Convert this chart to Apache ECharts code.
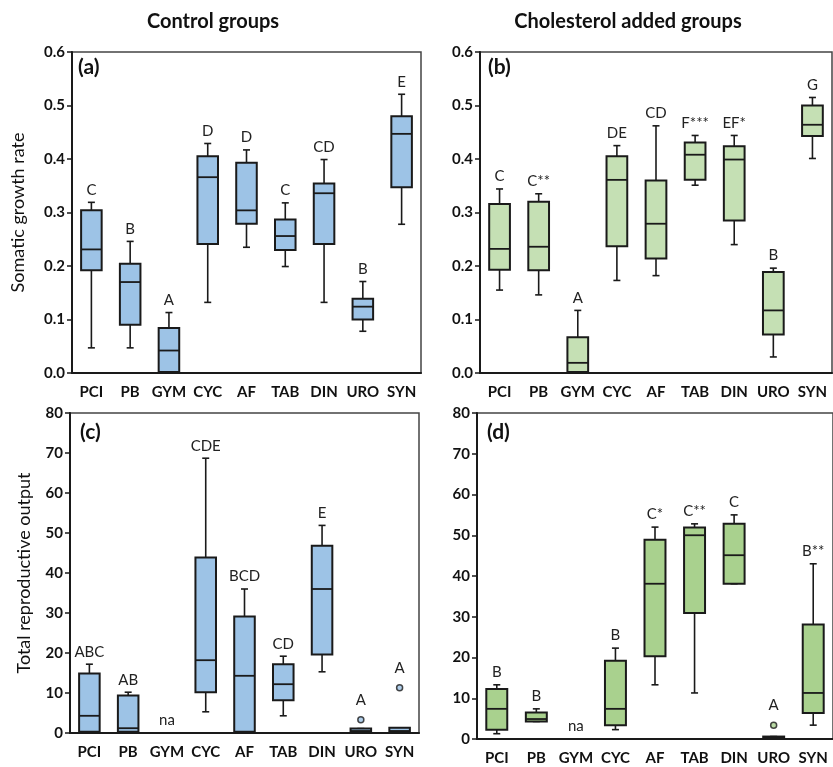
<!DOCTYPE html>
<html>
<head>
<meta charset="utf-8">
<style>
  html, body { margin: 0; padding: 0; background: #fff; }
  #chart { width: 833px; height: 767px; }
</style>
<script src="https://cdn.jsdelivr.net/npm/echarts@6/dist/echarts.min.js"></script>
</head>
<body>
<div id="chart"></div>
<script>
const categories = ['PCI', 'PB', 'GYM', 'CYC', 'AF', 'TAB', 'DIN', 'URO', 'SYN']
const growthTicks = { min: 0, max: 0.6, interval: 0.1 }
const reproTicks = { min: 0, max: 80, interval: 10 }

// [min, q1, median, q3, max]
const growthControl = [
  [0.047, 0.192, 0.231, 0.304, 0.319],
  [0.047, 0.090, 0.170, 0.204, 0.246],
  [0.000, 0.002, 0.042, 0.084, 0.113],
  [0.132, 0.241, 0.366, 0.405, 0.429],
  [0.235, 0.279, 0.304, 0.393, 0.417],
  [0.199, 0.230, 0.256, 0.287, 0.318],
  [0.132, 0.241, 0.336, 0.354, 0.399],
  [0.078, 0.100, 0.124, 0.139, 0.171],
  [0.278, 0.347, 0.447, 0.480, 0.521]
]
const growthCholesterol = [
  [0.155, 0.193, 0.232, 0.316, 0.344],
  [0.146, 0.192, 0.236, 0.320, 0.335],
  [0.000, 0.002, 0.019, 0.067, 0.117],
  [0.173, 0.237, 0.361, 0.405, 0.425],
  [0.182, 0.214, 0.279, 0.360, 0.462],
  [0.351, 0.361, 0.408, 0.431, 0.444],
  [0.240, 0.285, 0.399, 0.424, 0.444],
  [0.030, 0.072, 0.117, 0.189, 0.196],
  [0.401, 0.443, 0.464, 0.500, 0.515]
]
const reproControl = [
  [0.2, 0.3, 4.3, 14.9, 17.2],
  [0.2, 0.3, 1.2, 9.4, 10.2],
  null,
  [5.3, 10.2, 18.2, 43.9, 68.7],
  [0.2, 0.3, 14.3, 29.1, 36.0],
  [4.3, 8.2, 12.2, 17.2, 19.2],
  [15.3, 19.6, 36.0, 46.8, 51.9],
  [0.3, 0.3, 0.5, 1.1, 1.1],
  [0.3, 0.3, 0.5, 1.3, 1.3]
]
const reproCholesterol = [
  [1.3, 2.3, 7.4, 12.3, 13.3],
  [4.3, 4.3, 4.9, 6.5, 7.4],
  null,
  [2.3, 3.4, 7.4, 19.2, 22.3],
  [13.3, 20.3, 38.1, 48.9, 52.0],
  [11.3, 30.9, 50.0, 51.9, 52.8],
  [38.1, 38.1, 45.1, 52.8, 55.0],
  [0.25, 0.25, 0.4, 0.6, 0.6],
  [3.4, 6.4, 11.3, 28.1, 43.0]
]
const reproControlOutliers = [['URO', 3.3], ['SYN', 11.3]]
const reproCholesterolOutliers = [['URO', 3.4]]

const lettersGrowthControl = ['C', 'B', 'A', 'D', 'D', 'C', 'CD', 'B', 'E']
const lettersGrowthCholesterol = ['C', 'C**', 'A', 'DE', 'CD', 'F***', 'EF*', 'B', 'G']
const lettersReproControl = ['ABC', 'AB', 'na', 'CDE', 'BCD', 'CD', 'E', 'A', 'A']
const lettersReproCholesterol = ['B', 'B', 'na', 'B', 'C*', 'C**', 'C', 'A', 'B**']

const blue = '#9dc3e6'
const lightGreen = '#c5e0b4'
const green = '#a9d18e'
const ink = '#1a1a1a'
const font = 'Lato, "Liberation Sans", sans-serif'

const boxRows = stats => stats
  .map((s, i) => (s ? [i].concat(s) : null))
  .filter(Boolean)

const letterRows = (letters, stats, outliers) => letters.map((t, i) => {
  const s = stats[i]
  const out = outliers.filter(o => o[0] === categories[i]).map(o => o[1])
  const top = s ? s[4] : 0
  const anchor = out.length ? Math.max(top, ...out) : top
  return [i, anchor, t, out.length ? 1 : 0]
})

const renderBox = fill => (params, api) => {
  const idx = api.value(0)
  const lo = api.coord([idx, api.value(1)])
  const q1 = api.coord([idx, api.value(2)])
  const med = api.coord([idx, api.value(3)])
  const q3 = api.coord([idx, api.value(4)])
  const hi = api.coord([idx, api.value(5)])
  const w = api.size([1, 0])[0] * 0.53
  const x = q1[0]
  const cap = 3.5
  const line = (x1, y1, x2, y2, lw) => ({
    type: 'line',
    shape: { x1, y1, x2, y2 },
    style: { stroke: ink, lineWidth: lw }
  })
  return {
    type: 'group',
    children: [
      line(x, q3[1], x, hi[1], 1.6),
      line(x - cap, hi[1], x + cap, hi[1], 1.6),
      line(x, q1[1], x, lo[1], 1.6),
      line(x - cap, lo[1], x + cap, lo[1], 1.6),
      {
        type: 'rect',
        shape: { x: x - w / 2, y: q3[1], width: w, height: Math.max(q1[1] - q3[1], 1) },
        style: { fill, stroke: ink, lineWidth: 2 }
      },
      line(x - w / 2, med[1], x + w / 2, med[1], 1.8)
    ]
  }
}

const renderLetter = (params, api) => {
  const idx = api.value(0)
  const p = api.coord([idx, api.value(1)])
  const gap = api.value(3) ? 12 : 5
  return {
    type: 'text',
    style: {
      x: p[0],
      y: p[1] - gap,
      text: api.value(2),
      fill: '#222',
      font: '15px ' + font,
      textAlign: 'center',
      textVerticalAlign: 'bottom'
    }
  }
}

const grids = [
  { left: 72, right: 412, top: 52, height: 321 },
  { left: 480, right: 1, top: 52, height: 321 },
  { left: 70, right: 414, top: 413, height: 320 },
  { left: 477, right: -3, top: 413, height: 326 }
]

const panels = [
  { stats: growthControl, letters: lettersGrowthControl, outliers: [], fill: blue, ticks: growthTicks, name: 'Somatic growth rate', gap: 45, digits: 1 },
  { stats: growthCholesterol, letters: lettersGrowthCholesterol, outliers: [], fill: lightGreen, ticks: growthTicks, name: '', gap: 0, digits: 1 },
  { stats: reproControl, letters: lettersReproControl, outliers: reproControlOutliers, fill: blue, ticks: reproTicks, name: 'Total reproductive output', gap: 37, digits: 0 },
  { stats: reproCholesterol, letters: lettersReproCholesterol, outliers: reproCholesterolOutliers, fill: green, ticks: reproTicks, name: '', gap: 0, digits: 0 }
]

const chart = echarts.init(document.getElementById('chart'))

const labelStyle = { color: '#111', fontSize: 15, fontWeight: 'bold', fontFamily: font }

chart.setOption({
  animation: false,
  grid: grids.map(g => Object.assign({ show: true, borderColor: '#444', borderWidth: 1.5 }, g)),
  xAxis: panels.map((p, i) => ({
    type: 'category',
    gridIndex: i,
    data: categories,
    boundaryGap: true,
    axisTick: { show: false },
    axisLine: { lineStyle: { color: ink, width: 2 } },
    axisLabel: Object.assign({ margin: 12, interval: 0 }, labelStyle)
  })),
  yAxis: panels.map((p, i) => ({
    type: 'value',
    gridIndex: i,
    min: p.ticks.min,
    max: p.ticks.max,
    interval: p.ticks.interval,
    name: p.name,
    nameLocation: 'middle',
    nameRotate: 90,
    nameGap: p.gap,
    nameTextStyle: { color: '#111', fontSize: 18, fontFamily: font },
    splitLine: { show: false },
    axisTick: { show: true, length: 5, lineStyle: { color: ink, width: 1.5 } },
    axisLine: { show: true, lineStyle: { color: ink, width: 2 } },
    axisLabel: Object.assign({ margin: 7, formatter: v => v.toFixed(p.digits) }, labelStyle)
  })),
  series: panels.flatMap((p, i) => [
    {
      type: 'custom',
      xAxisIndex: i,
      yAxisIndex: i,
      renderItem: renderBox(p.fill),
      encode: { x: 0, y: [1, 2, 3, 4, 5] },
      data: boxRows(p.stats),
      clip: false
    },
    {
      type: 'scatter',
      xAxisIndex: i,
      yAxisIndex: i,
      symbol: 'circle',
      symbolSize: 6,
      itemStyle: { color: p.fill, borderColor: ink, borderWidth: 1.5 },
      data: p.outliers
    },
    {
      type: 'custom',
      xAxisIndex: i,
      yAxisIndex: i,
      renderItem: renderLetter,
      encode: { x: 0, y: 1 },
      data: letterRows(p.letters, p.stats, p.outliers),
      clip: false
    }
  ]),
  graphic: [
    { type: 'text', x: 213, y: 22, style: { text: 'Control groups', font: 'bold 20px ' + font, fill: '#111', textAlign: 'center', textVerticalAlign: 'middle' } },
    { type: 'text', x: 628, y: 22, style: { text: 'Cholesterol added groups', font: 'bold 20px ' + font, fill: '#111', textAlign: 'center', textVerticalAlign: 'middle' } },
    { type: 'text', x: 78, y: 67, style: { text: '(a)', font: 'bold 21px ' + font, fill: '#111', textVerticalAlign: 'middle' } },
    { type: 'text', x: 488, y: 67, style: { text: '(b)', font: 'bold 21px ' + font, fill: '#111', textVerticalAlign: 'middle' } },
    { type: 'text', x: 80, y: 432, style: { text: '(c)', font: 'bold 21px ' + font, fill: '#111', textVerticalAlign: 'middle' } },
    { type: 'text', x: 487, y: 432, style: { text: '(d)', font: 'bold 21px ' + font, fill: '#111', textVerticalAlign: 'middle' } }
  ]
})

window.addEventListener('resize', () => chart.resize())
</script>
</body>
</html>
